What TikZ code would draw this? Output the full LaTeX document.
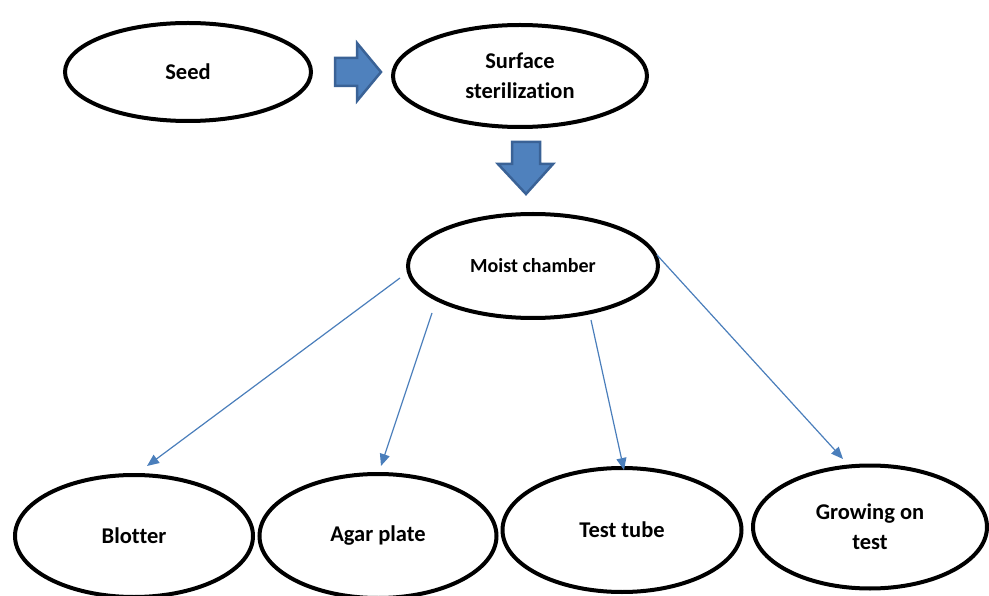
\documentclass[tikz,border=0pt]{standalone}
\usepackage{fontspec}
\setmainfont{Carlito}[Ligatures={NoCommon}]
\usetikzlibrary{shapes.geometric,arrows.meta}
\definecolor{blockfill}{HTML}{4F81BD}
\definecolor{blockline}{HTML}{3A6296}
\definecolor{thinblue}{HTML}{4A7EBB}
\tikzset{
  oval/.style={ellipse, draw=black, line width=4pt, inner sep=0pt, align=center, font=\fontsize{22.5}{30}\selectfont\bfseries},
  thinarrow/.style={draw=thinblue, line width=1.2pt, -{Triangle[length=12pt,width=10pt]}},
  blockarrow/.style={fill=blockfill, draw=blockline, line width=2.5pt, line join=miter}
}
\begin{document}
\begin{tikzpicture}[x=1pt,y=-1pt]
\useasboundingbox (0,0) rectangle (989,596);
\node[oval, minimum width=246, minimum height=98] (seed) at (188,72) {Seed};
\node[oval, minimum width=254, minimum height=102] (surf) at (520,76) {Surface\\sterilization};
\node[oval, minimum width=250, minimum height=104, font=\fontsize{20}{24}\selectfont\bfseries] (moist) at (533,266) {Moist chamber};
\node[oval, minimum width=238, minimum height=122] (blot) at (134,536) {Blotter};
\node[oval, minimum width=237, minimum height=124] (agar) at (378,536) {Agar plate};
\node[oval, minimum width=239, minimum height=124] (tube) at (622,530) {Test tube};
\node[oval, minimum width=234, minimum height=123] (grow) at (870,527) {Growing on\\test};
% block arrows
\draw[blockarrow] (335,58) -- (357,58) -- (357,43) -- (381,72) -- (357,101) -- (357,86) -- (335,86) -- cycle;
\draw[blockarrow] (512,142) -- (540,142) -- (540,164) -- (553,164) -- (526,194) -- (498,164) -- (512,164) -- cycle;
% thin connectors
\coordinate (m1) at (400,278);
\coordinate (m2) at (432,313);
\coordinate (m3) at (591,320);
\coordinate (m4) at (657,255);
\coordinate (b1) at (147,466);
\coordinate (b2) at (381,466);
\coordinate (b3) at (624,470);
\coordinate (b4) at (843,459);
\draw[thinarrow] (m1) -- (b1);
\draw[thinarrow] (m2) -- (b2);
\draw[thinarrow] (m3) -- (b3);
\draw[thinarrow] (m4) -- (b4);
\end{tikzpicture}
\end{document}
